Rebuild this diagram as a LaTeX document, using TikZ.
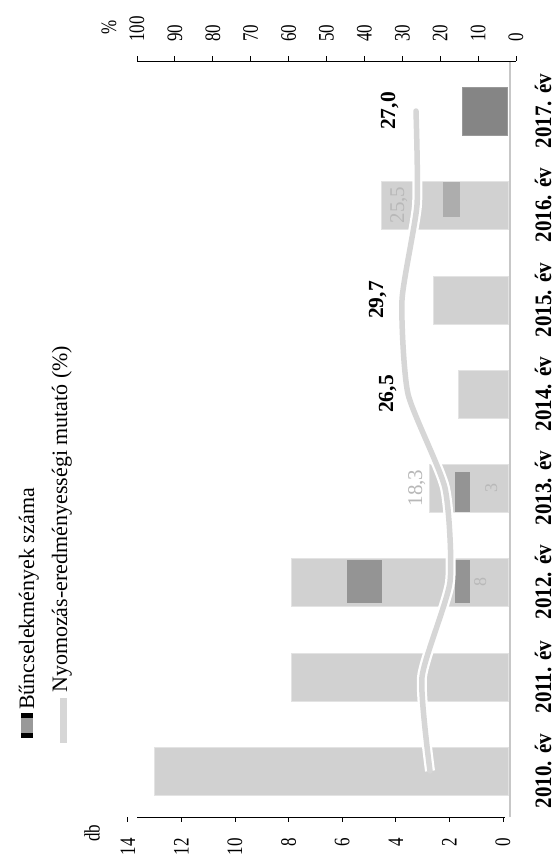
\documentclass[tikz,border=0pt]{standalone}
\usepackage{fontspec}
\setmainfont{Liberation Serif}
\begin{document}
\begin{tikzpicture}[x=1pt,y=-1pt,
  ticklab/.style={font=\fontsize{17}{17}\selectfont, rotate=90, inner sep=0pt},
  yearlab/.style={font=\fontsize{21}{21}\selectfont\bfseries, rotate=90, inner sep=0pt, anchor=base},
  vallab/.style={font=\fontsize{21.5}{21.5}\selectfont\bfseries, rotate=90, inner sep=0pt, anchor=base},
  faintlab/.style={font=\fontsize{21}{21}\selectfont, text=black!28, rotate=90, inner sep=0pt, anchor=base},
  legtext/.style={font=\fontsize{22}{22}\selectfont, rotate=90, inner sep=0pt, anchor=base west},
  barbox/.style={fill=black!18, draw=black!11, line width=0.8pt},
  darkpatch/.style={fill=black!42},
  axisline/.style={line width=0.9pt, black},
  catline/.style={line width=1.2pt, black!22},
  halo/.style={line width=10pt, white},
  pctline/.style={line width=5.5pt, black!16, line cap=round, line join=round}
]
\useasboundingbox (0,0) rectangle (557,867);
\fill[white] (0,0) rectangle (557,867);

% ---- bars (base at x=509)
\node[barbox, inner sep=0pt, minimum width=354pt, minimum height=48pt, anchor=east] (b2010) at (509,771) {};
\node[barbox, inner sep=0pt, minimum width=217pt, minimum height=48pt, anchor=east] (b2011) at (509,677) {};
\node[barbox, inner sep=0pt, minimum width=217pt, minimum height=48pt, anchor=east] (b2012) at (509,582) {};
\node[barbox, inner sep=0pt, minimum width=79pt, minimum height=48pt, anchor=east] (b2013) at (509,488) {};
\node[barbox, inner sep=0pt, minimum width=50pt, minimum height=48pt, anchor=east] (b2014) at (509,394) {};
\node[barbox, inner sep=0pt, minimum width=75pt, minimum height=48pt, anchor=east] (b2015) at (509,300) {};
\node[barbox, inner sep=0pt, minimum width=127pt, minimum height=48pt, anchor=east] (b2016) at (509,205) {};
\node[fill=black!48, draw=black!40, inner sep=0pt, minimum width=45pt, minimum height=48pt, anchor=east] (b2017) at (507,111) {};

% darker patches of the scanned bars
\fill[darkpatch] (347,560) rectangle (382,603);
\fill[darkpatch] (455,560) rectangle (470,603);
\fill[darkpatch] (455,472) rectangle (470,512);
\fill[black!32] (443,182) rectangle (460,217);

% ---- category axis
\coordinate (c0) at (510,62);
\coordinate (c1) at (510,817);
\draw[catline] (c0) -- (c1);

% ---- percentage line
\coordinate (p2010) at (430,771);
\coordinate (p2011) at (422,677);
\coordinate (p2012) at (450,582);
\coordinate (p2013) at (445,488);
\coordinate (p2014) at (408,394);
\coordinate (p2015) at (402,300);
\coordinate (p2016) at (417,205);
\coordinate (p2017) at (416,111);
\draw[halo] plot[smooth, tension=0.35] coordinates {(p2010) (p2011) (p2012) (p2013) (p2014) (p2015) (p2016) (p2017)};
\draw[pctline] plot[smooth, tension=0.35] coordinates {(p2010) (p2011) (p2012) (p2013) (p2014) (p2015) (p2016) (p2017)};

% ---- value labels
\node[vallab] (v2017) at (395,111) {27,0};
\node[vallab] (v2015) at (383,300) {29,7};
\node[vallab] (v2014) at (393,394) {26,5};
\node[faintlab] (v2016) at (404,205) {25,5};
\node[faintlab] (v2013) at (422,488) {18,3};
\node[faintlab, font=\fontsize{18}{18}\selectfont] (n2012) at (486,582) {8};
\node[faintlab, font=\fontsize{18}{18}\selectfont] (n2013) at (497,488) {3};

% ---- year labels
\foreach \yr/\yc in {2010/771,2011/677,2012/582,2013/488,2014/394,2015/300,2016/205,2017/111}{
  \node[yearlab] (y\yr) at (551,\yc) {\scalebox{1}[1.12]{\yr. év}};
}

% ---- db axis (bottom)
\coordinate (d0) at (137,817);
\coordinate (d1) at (505,817);
\draw[axisline] (d0) -- (d1);
\foreach \v in {0,2,...,14}{
  \pgfmathsetmacro{\xx}{503-26.8*\v}
  \coordinate (dt\v) at (\xx,817);
  \coordinate (dte\v) at (\xx,822);
  \draw[axisline] (dt\v) -- (dte\v);
  \node[ticklab, anchor=east] (dl\v) at (\xx,838) {\scalebox{1}[1.3]{\v}};
}
\node[ticklab] (db) at (92,833) {\scalebox{1}[1.3]{db}};

% ---- percent axis (top)
\coordinate (q0) at (137,61);
\coordinate (q1) at (516,61);
\draw[axisline] (q0) -- (q1);
\foreach \p in {0,10,...,100}{
  \pgfmathsetmacro{\xx}{516-3.79*\p}
  \coordinate (qt\p) at (\xx,61);
  \coordinate (qte\p) at (\xx,56);
  \draw[axisline] (qt\p) -- (qte\p);
  \node[ticklab, anchor=west] (ql\p) at (\xx,42) {\scalebox{1}[1.3]{\p}};
}
\node[ticklab] (pct) at (109,27) {\scalebox{1}[1.3]{\%}};

% ---- legend
\fill[black] (21,713) rectangle (33,738);
\fill[black!40] (21,718) rectangle (33,733);
\node[legtext] (leg1) at (34,710) {Bűncselekmények száma};
\fill[black!16] (60,698) rectangle (67,743);
\node[legtext] (leg2) at (67,693) {Nyomozás-eredményességi mutató (\%)};
\end{tikzpicture}
\end{document}
